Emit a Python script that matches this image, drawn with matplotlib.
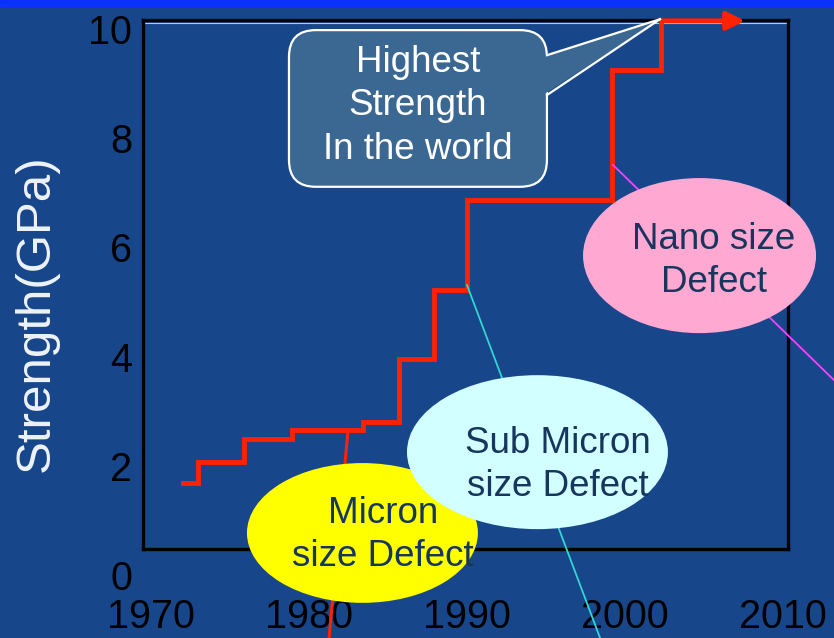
import matplotlib
matplotlib.use('Agg')
from matplotlib import pyplot as plt
from matplotlib.patches import Ellipse, FancyBboxPatch, Polygon, Rectangle

plt.rcParams['font.family'] = ['Liberation Sans', 'DejaVu Sans']

# step data: year the new record starts, strength (GPa)
years = [1972.0, 1973.0, 1975.9, 1978.9, 1983.4, 1985.7, 1987.9, 1990.0, 1999.2, 2002.3]
strength = [1.68, 2.07, 2.49, 2.66, 2.80, 3.96, 5.22, 6.87, 9.25, 10.15]
arrow_end = 2007.6

year_ticks = [1970, 1980, 1990, 2000, 2010]
strength_ticks = [0, 2, 4, 6, 8, 10]

bg = '#17468a'
red = '#ff2200'
navy = '#17365d'

fig = plt.figure(figsize=(8.34, 6.38), dpi=100, facecolor=bg)
fig.patches.append(Rectangle((0, 1 - 6 / 638), 1, 6 / 638, transform=fig.transFigure,
                             color='#0a30ff', zorder=0))

ax = fig.add_axes([143 / 834, 1 - 575 / 638, 645 / 834, 555 / 638])
ax.patch.set_alpha(0)
ax.set_xlim(1969.49, 2010.32)
ax.set_ylim(0, 10.165)

# box is drawn by the spines, bottom one sits above the 0 label
ax.spines['bottom'].set_position(('data', 0.476))
ax.spines['left'].set_bounds(0.476, 10.165)
ax.spines['right'].set_bounds(0.476, 10.165)
for s in ax.spines.values():
    s.set_linewidth(2.4)
    s.set_color('black')
ax.axhline(10.11, color='#c8c8c8', lw=0.8, zorder=1)

ax.set_xticks(year_ticks)
ax.set_xticklabels([str(y) for y in year_ticks])
ax.set_yticks(strength_ticks)
ax.set_yticklabels([str(v) for v in strength_ticks])
ax.tick_params(axis='x', length=0, pad=35.5, labelsize=28.5, labelcolor='black')
ax.tick_params(axis='y', length=0, pad=8, labelsize=28.5, labelcolor='black')

fig.text(36 / 834, 1 - 313.5 / 638, 'Strength(GPa)', rotation=90, ha='center', va='center',
         fontsize=35.5, color='#eef2f8')

# record strength steps
ax.plot(years, strength, drawstyle='steps-post', color=red, lw=3.5, zorder=3, clip_on=False,
        solid_joinstyle='miter')
ax.annotate('', xy=(arrow_end, strength[-1]), xytext=(years[-1], strength[-1]),
            arrowprops=dict(arrowstyle='-|>,head_length=0.54,head_width=0.27', color=red,
                            lw=3.5, shrinkA=0, shrinkB=0, mutation_scale=20),
            zorder=3, annotation_clip=False)

# pointer lines (behind the ellipses)
ax.plot([1982.47, 1981.27], [2.66, -1.15], color=red, lw=2.2, zorder=3, clip_on=False)
ax.plot([1990.0, 1998.42], [5.31, -1.15], color='#33d6d0', lw=1.3, zorder=3, clip_on=False)
ax.plot([1999.24, 2013.23], [7.51, 3.57], color='#ff40ff', lw=1.3, zorder=3, clip_on=False)

# defect ellipses
ax.add_patch(Ellipse((1983.38, 0.77), 14.62, 2.56, facecolor='#ffff00', edgecolor='none',
                     zorder=4, clip_on=False))
ax.add_patch(Ellipse((1994.46, 2.25), 16.52, 2.82, facecolor='#d2ffff', edgecolor='none',
                     zorder=4, clip_on=False))
ax.add_patch(Ellipse((2004.72, 5.85), 14.75, 2.84, facecolor='#ffa8d2', edgecolor='none',
                     zorder=4, clip_on=False))

ax.text(1984.68, 0.73, 'Micron\nsize Defect', ha='center', va='center', fontsize=26.5,
        color=navy, zorder=5, linespacing=1.31)
ax.text(1995.76, 2.01, 'Sub Micron\nsize Defect', ha='center', va='center', fontsize=26.5,
        color=navy, zorder=5, linespacing=1.31)
ax.text(2005.63, 5.75, 'Nano size\nDefect', ha='center', va='center', fontsize=26.5,
        color=navy, zorder=5, linespacing=1.31)

# callout
box_fill = '#3b6892'
ax.add_patch(FancyBboxPatch((1978.73, 7.11), 16.33, 2.87,
                            boxstyle='round,pad=0,rounding_size=1.7',
                            mutation_aspect=15.8 / 54.6, facecolor=box_fill,
                            edgecolor='white', lw=1.6, zorder=6, clip_on=False))
tip = (2002.22, 10.18)
ax.add_patch(Polygon([(1994.8, 9.52), tip, (1994.8, 8.79)], closed=True, facecolor=box_fill,
                     edgecolor='none', zorder=6.5, clip_on=False))
ax.plot([1995.06, tip[0]], [9.52, tip[1]], color='white', lw=1.6, zorder=6.6, clip_on=False)
ax.plot([1995.06, tip[0]], [8.79, tip[1]], color='white', lw=1.6, zorder=6.6, clip_on=False)
ax.text(1986.9, 8.59, 'Highest\nStrength\nIn the world', ha='center', va='center',
        fontsize=26.5, color='white', zorder=7, linespacing=1.31)

plt.savefig('out.png', dpi=100, facecolor=bg)
